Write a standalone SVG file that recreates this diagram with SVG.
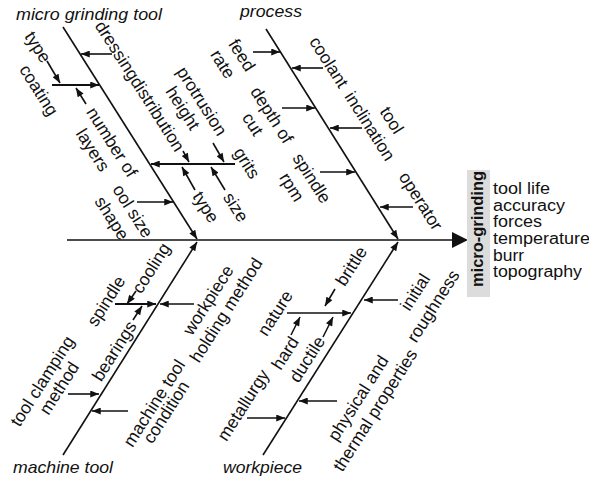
<svg xmlns="http://www.w3.org/2000/svg" width="589" height="481" viewBox="0 0 589 481">
<defs>
<marker id="ah" viewBox="0 0 10 8" refX="10" refY="4" markerWidth="10" markerHeight="7" markerUnits="userSpaceOnUse" orient="auto"><path d="M0,0 L10,4 L0,8 z" fill="#111"/></marker>
<style>
.t{font-family:"Liberation Sans",Arial,Helvetica,sans-serif;font-size:17.5px;fill:#111}
.l{text-anchor:middle}
.ti{font-family:"Liberation Sans",Arial,Helvetica,sans-serif;font-size:17px;font-style:italic;fill:#111}
.e{font-family:"Liberation Sans",Arial,Helvetica,sans-serif;font-size:16px;fill:#111}
.bone{stroke:#111;stroke-width:1.4;fill:none}
.a{stroke:#111;stroke-width:1.6;fill:none;marker-end:url(#ah)}
.h{stroke-width:2}
</style>
</defs>
<rect width="589" height="481" fill="#fff"/>

<g id="connectors">
<line class="bone" x1="67" y1="240" x2="454" y2="240"/>
<polygon points="452,232 468,240 452,248" fill="#111"/>
<line class="a" x1="63" y1="27" x2="197" y2="239"/>
<line class="a" x1="266" y1="29" x2="398" y2="239"/>
<line class="a" x1="63" y1="455" x2="197" y2="242"/>
<line class="a" x1="263" y1="455" x2="398" y2="242"/>
<!-- micro grinding tool -->
<line class="a" x1="112" y1="54" x2="81" y2="54"/>
<line class="a" x1="47" y1="61" x2="60" y2="83"/>
<line class="a h" x1="52" y1="85" x2="99" y2="85"/>
<line class="a" x1="86" y1="104" x2="76" y2="88"/>
<line class="a h" x1="235" y1="164" x2="151" y2="164"/>
<line class="a" x1="183" y1="151" x2="189" y2="162"/>
<line class="a" x1="213" y1="143" x2="224" y2="162"/>
<line class="a" x1="195" y1="190" x2="182" y2="167"/>
<line class="a" x1="225" y1="190" x2="211" y2="167"/>
<line class="a" x1="137" y1="202" x2="173" y2="202"/>
<!-- process -->
<line class="a" x1="253" y1="52" x2="280" y2="52"/>
<line class="a" x1="323" y1="68" x2="292" y2="68"/>
<line class="a" x1="282" y1="108" x2="315" y2="108"/>
<line class="a" x1="362" y1="128" x2="330" y2="128"/>
<line class="a" x1="320" y1="172" x2="355" y2="172"/>
<line class="a" x1="413" y1="207" x2="380" y2="207"/>
<!-- machine tool -->
<line class="a" x1="136" y1="291" x2="127" y2="304"/>
<line class="a h" x1="115" y1="304" x2="156" y2="304"/>
<line class="a" x1="133" y1="320" x2="142" y2="306"/>
<line class="a" x1="194" y1="304" x2="160" y2="304"/>
<line class="a" x1="68" y1="394" x2="99" y2="394"/>
<line class="a" x1="128" y1="411" x2="92" y2="411"/>
<!-- workpiece -->
<line class="a" x1="398" y1="300" x2="364" y2="300"/>
<line class="a" x1="287" y1="313" x2="351" y2="313"/>
<line class="a" x1="335" y1="289" x2="325" y2="306"/>
<line class="a" x1="291" y1="335" x2="300" y2="317"/>
<line class="a" x1="323" y1="337" x2="333" y2="317"/>
<line class="a" x1="247" y1="418" x2="285" y2="418"/>
<line class="a" x1="337" y1="401" x2="299" y2="401"/>
</g>

<g id="title-micro-grinding-tool"><text class="ti" x="16" y="19.5" textLength="146" lengthAdjust="spacingAndGlyphs">micro grinding tool</text></g>
<g id="title-process"><text class="ti" x="240" y="17" textLength="62" lengthAdjust="spacingAndGlyphs">process</text></g>
<g id="title-machine-tool"><text class="ti" x="13" y="472.5" textLength="100" lengthAdjust="spacingAndGlyphs">machine tool</text></g>
<g id="title-workpiece"><text class="ti" x="223" y="472.5" textLength="79" lengthAdjust="spacingAndGlyphs">workpiece</text></g>

<g id="effect-head">
<rect x="467" y="170" width="23" height="127" fill="#dcdcdc"/>
<text transform="translate(483,229) rotate(-90)" text-anchor="middle" font-family="'Liberation Sans',Arial,sans-serif" font-size="16.5" font-weight="bold" fill="#111" textLength="116" lengthAdjust="spacingAndGlyphs">micro-grinding</text>
</g>
<g id="effects">
<text class="e" x="493" y="194" textLength="57" lengthAdjust="spacingAndGlyphs">tool life</text>
<text class="e" x="493" y="210.7" textLength="72" lengthAdjust="spacingAndGlyphs">accuracy</text>
<text class="e" x="493" y="227.3" textLength="49" lengthAdjust="spacingAndGlyphs">forces</text>
<text class="e" x="493" y="244" textLength="97" lengthAdjust="spacingAndGlyphs">temperature</text>
<text class="e" x="493" y="260.6" textLength="31" lengthAdjust="spacingAndGlyphs">burr</text>
<text class="e" x="493" y="277.2" textLength="89" lengthAdjust="spacingAndGlyphs">topography</text>
</g>

<g id="n-dressing-distribution"><text class="t l" dy="0.35em" transform="translate(140,86) rotate(57.5)">dressingdistribution</text></g>
<g id="n-type1"><text class="t l" dy="0.35em" transform="translate(38,47) rotate(57.5)">type</text></g>
<g id="n-coating"><text class="t l" dy="0.35em" transform="translate(39,90) rotate(57.5)">coating</text></g>
<g id="n-number-of-layers">
<text class="t l" dy="0.35em" transform="translate(112,142) rotate(57.5)">number of</text>
<text class="t l" dy="0.35em" transform="translate(93,150) rotate(57.5)">layers</text>
</g>
<g id="n-protrusion-height">
<text class="t l" dy="0.35em" transform="translate(202,101) rotate(57.5)">protrusion</text>
<text class="t l" dy="0.35em" transform="translate(183,108) rotate(57.5)">height</text>
</g>
<g id="n-grits"><text class="t l" dy="0.35em" transform="translate(247,163) rotate(57.5)">grits</text></g>
<g id="n-type2"><text class="t l" dy="0.35em" transform="translate(206,207) rotate(57.5)">type</text></g>
<g id="n-size"><text class="t l" dy="0.35em" transform="translate(236,207) rotate(57.5)">size</text></g>
<g id="n-tool-size-shape">
<text class="t l" dy="0.35em" transform="translate(133,211) rotate(57.5)">ool size</text>
<text class="t l" dy="0.35em" transform="translate(112,218) rotate(57.5)">shape</text>
</g>

<g id="n-feed-rate">
<text class="t l" dy="0.35em" transform="translate(242,55) rotate(57.5)">feed</text>
<text class="t l" dy="0.35em" transform="translate(223,64) rotate(57.5)">rate</text>
</g>
<g id="n-coolant"><text class="t l" dy="0.35em" transform="translate(329,62) rotate(57.5)">coolant</text></g>
<g id="n-depth-of-cut">
<text class="t l" dy="0.35em" transform="translate(272,115) rotate(57.5)">depth of</text>
<text class="t l" dy="0.35em" transform="translate(253,124) rotate(57.5)">cut</text>
</g>
<g id="n-tool-inclination">
<text class="t l" dy="0.35em" transform="translate(392,120) rotate(57.5)">tool</text>
<text class="t l" dy="0.35em" transform="translate(370,126) rotate(57.5)">inclination</text>
</g>
<g id="n-spindle-rpm">
<text class="t l" dy="0.35em" transform="translate(312,178) rotate(57.5)">spindle</text>
<text class="t l" dy="0.35em" transform="translate(292,187) rotate(57.5)">rpm</text>
</g>
<g id="n-operator"><text class="t l" dy="0.35em" transform="translate(421,201) rotate(57.5)">operator</text></g>

<g id="n-spindle"><text class="t l" dy="0.35em" transform="translate(106,301) rotate(-57.5)">spindle</text></g>
<g id="n-cooling"><text class="t l" dy="0.35em" transform="translate(151,268) rotate(-57.5)">cooling</text></g>
<g id="n-bearings"><text class="t l" dy="0.35em" transform="translate(114,351) rotate(-57.5)">bearings</text></g>
<g id="n-workpiece-holding">
<text class="t l" dy="0.35em" transform="translate(208,300) rotate(-57.5)">workpiece</text>
<text class="t l" dy="0.35em" transform="translate(226,310) rotate(-57.5)">holding method</text>
</g>
<g id="n-tool-clamping">
<text class="t l" dy="0.35em" transform="translate(42,381) rotate(-57.5)">tool clamping</text>
<text class="t l" dy="0.35em" transform="translate(59,388) rotate(-57.5)">method</text>
</g>
<g id="n-machine-condition">
<text class="t l" dy="0.35em" transform="translate(154,403) rotate(-57.5)">machine tool</text>
<text class="t l" dy="0.35em" transform="translate(166,412) rotate(-57.5)">condition</text>
</g>

<g id="n-initial-roughness">
<text class="t l" dy="0.35em" transform="translate(415,292) rotate(-57.5)">initial</text>
<text class="t l" dy="0.35em" transform="translate(433,306) rotate(-57.5)">roughness</text>
</g>
<g id="n-nature"><text class="t l" dy="0.35em" transform="translate(275,313) rotate(-57.5)">nature</text></g>
<g id="n-brittle"><text class="t l" dy="0.35em" transform="translate(351,266) rotate(-57.5)">brittle</text></g>
<g id="n-hard"><text class="t l" dy="0.35em" transform="translate(285,353) rotate(-57.5)">hard</text></g>
<g id="n-ductile"><text class="t l" dy="0.35em" transform="translate(307,359) rotate(-57.5)">ductile</text></g>
<g id="n-metallurgy"><text class="t l" dy="0.35em" transform="translate(243,405) rotate(-57.5)">metallurgy</text></g>
<g id="n-physical-thermal">
<text class="t l" dy="0.35em" transform="translate(358,398) rotate(-57.5)">physical and</text>
<text class="t l" dy="0.35em" transform="translate(375,410) rotate(-57.5)">thermal properties</text>
</g>
</svg>
